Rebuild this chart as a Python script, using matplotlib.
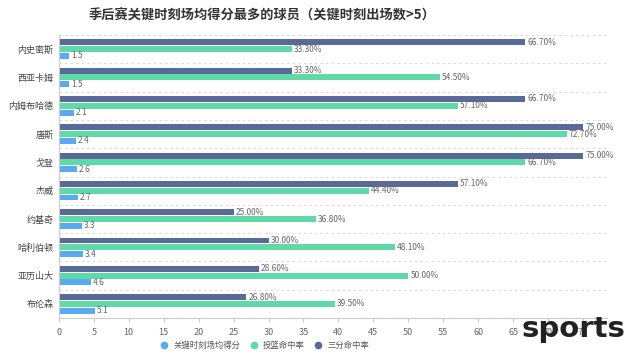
import numpy as np
import matplotlib.pyplot as plt
from matplotlib.lines import Line2D

plt.rcParams['font.family'] = ['Noto Sans CJK SC', 'DejaVu Sans']

# data, top to bottom as shown
players = ['内史密斯', '西亚卡姆', '内姆布哈德', '唐斯', '戈登', '杰威', '约基奇', '哈利伯顿', '亚历山大', '布伦森']
clutch_pts = [1.5, 1.5, 2.1, 2.4, 2.6, 2.7, 3.3, 3.4, 4.6, 5.1]
fg_pct = [33.3, 54.5, 57.1, 72.7, 66.7, 44.4, 36.8, 48.1, 50.0, 39.5]
three_pct = [66.7, 33.3, 66.7, 75.0, 75.0, 57.1, 25.0, 30.0, 28.6, 26.8]
series_names = ['关键时刻场均得分', '投篮命中率', '三分命中率']
xticks = np.arange(0, 80, 5)

C_BLUE = '#5aaaf0'
C_GREEN = '#5fd9a8'
C_NAVY = '#5a6a96'

fig = plt.figure(figsize=(6.4, 3.57), dpi=100)
ax = fig.add_axes([0.092, 0.109, 0.856, 0.793])

n = len(players)
y = np.arange(n)[::-1]
h = 0.21
step = 0.24

ax.barh(y - step, clutch_pts, height=h, color=C_BLUE)
ax.barh(y, fg_pct, height=h, color=C_GREEN)
ax.barh(y + step, three_pct, height=h, color=C_NAVY)

lab_kw = dict(fontsize=6, color='#666666', va='center', ha='left')
for yy, v in zip(y, clutch_pts):
    ax.text(v + 0.3, yy - step, f'{v:.1f}', **lab_kw)
for yy, v in zip(y, fg_pct):
    ax.text(v + 0.3, yy, f'{v:.2f}%', **lab_kw)
for yy, v in zip(y, three_pct):
    ax.text(v + 0.3, yy + step, f'{v:.2f}%', **lab_kw)

ax.set_xlim(0, 78.4)
ax.set_ylim(-0.5, n - 0.5)
ax.set_xticks(xticks)
ax.set_yticks(y)
ax.set_yticklabels(players)
ax.tick_params(axis='y', length=0, labelsize=6.5, labelcolor='#444444', pad=4)
ax.tick_params(axis='x', length=3, color='#cccccc', labelsize=6.5, labelcolor='#666666', pad=4)

# dashed separators between categories
for b in np.arange(n + 1) - 0.5:
    ax.axhline(b, color='#d9d9d9', lw=0.8, ls=(0, (2, 3)), zorder=0)

for s in ['top', 'right']:
    ax.spines[s].set_visible(False)
ax.spines['left'].set_color('#cccccc')
ax.spines['bottom'].set_color('#cccccc')

fig.text(0.41, 0.955, '季后赛关键时刻场均得分最多的球员（关键时刻出场数>5）',
         ha='center', va='center', fontsize=9.5, fontweight='bold', color='#333333')

handles = [Line2D([], [], marker='o', ls='', color=c, markersize=4.5)
           for c in [C_BLUE, C_GREEN, C_NAVY]]
fig.legend(handles, series_names, loc='center', bbox_to_anchor=(0.41, 0.033), ncol=3,
           frameon=False, fontsize=6, handletextpad=0.1, columnspacing=0.6,
           labelcolor='#555555')

fig.text(0.977, 0.078, 'sports', ha='right', va='center', fontsize=21,
         fontweight='bold', color='#222222', family='DejaVu Sans')

fig.savefig('out.png', dpi=100)
